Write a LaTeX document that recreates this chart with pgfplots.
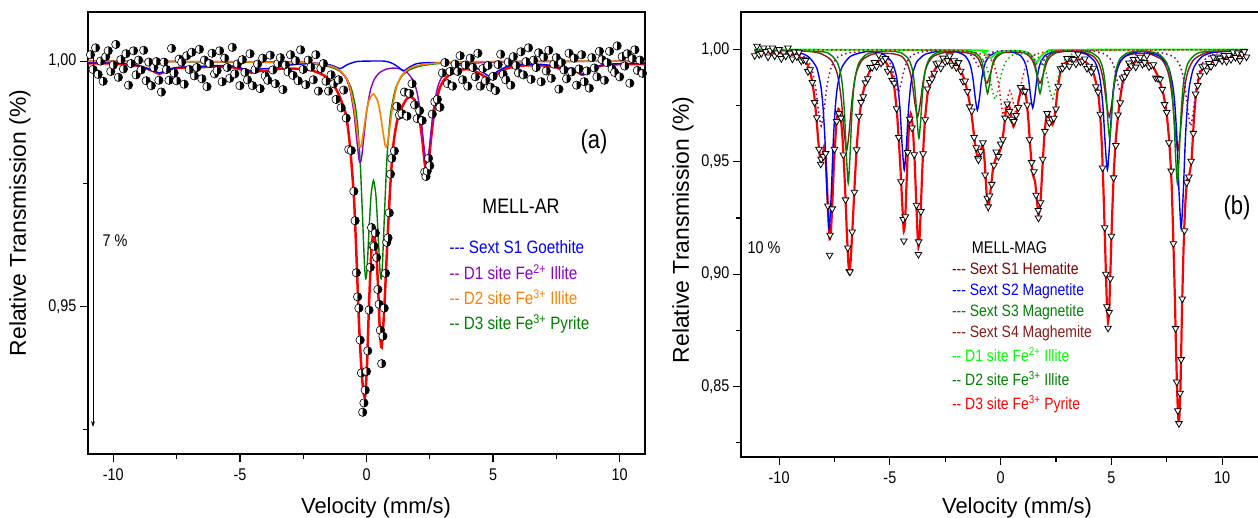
\documentclass[border=0pt]{standalone}
\usepackage{fontspec}
\setmainfont{Liberation Sans}
\newfontfamily\nf{Liberation Sans}[FakeStretch=0.85]
\usepackage{pgfplots}
\pgfplotsset{compat=1.18}
\usetikzlibrary{arrows.meta}
\definecolor{cblue}{RGB}{0,0,255}
\definecolor{cpurple}{RGB}{140,0,200}
\definecolor{corange}{RGB}{255,128,0}
\definecolor{cgreen}{RGB}{0,128,0}
\definecolor{cred}{RGB}{255,0,0}
\definecolor{cmaroon}{RGB}{128,0,0}
\definecolor{cbrown}{RGB}{139,26,26}
\definecolor{cbright}{RGB}{0,255,0}
\definecolor{cdgreen}{RGB}{0,170,0}
\definecolor{chem}{RGB}{128,0,128}
\pgfplotsset{
 mystyle/.style={
  scale only axis, anchor=south west,
  xtick={-10,-5,0,5,10}, xticklabels={-10,-5,0,5,10},
  minor xtick={-7.5,-2.5,2.5,7.5},
  xtick pos=left, ytick pos=left, tick align=outside,
  major tick length=8bp, minor tick length=5bp,
  tick style={black, line width=1.2bp},
  axis line style={line width=1.4bp},
  tick label style={font=\nf\fontsize{17}{17}\selectfont, text=black},
  xticklabel style={yshift=-3bp},
 }
}
\begin{document}
\begin{tikzpicture}
\useasboundingbox (0bp,0bp) rectangle (1258bp,518bp);
% ---------------- LEFT PANEL ----------------
\begin{axis}[mystyle,
 at={(88bp,64bp)}, width=557bp, height=442bp,
 xmin=-11, xmax=11, ymin=0.92, ymax=1.01,
 ytick={0.95,1.0}, yticklabels={{0,95},{1,00}},
 minor ytick={0.925,0.975},
]
% data
\addplot[only marks, mark=halfcircle*, mark size=4.2bp,
  mark options={draw=black, fill=white, mark color=black, rotate=90, line width=0.6bp}]
coordinates {
(-10.9,1.0013)(-10.8,0.9983)(-10.7,1.0027)(-10.6,0.9973)(-10.5,1.0000)(-10.4,0.9959)(-10.3,1.0009)(-10.2,1.0021)(-10.1,0.9979)(-10.0,0.9992)
(-9.9,1.0034)(-9.8,0.9967)(-9.7,1.0003)(-9.6,0.9984)(-9.5,1.0015)(-9.4,0.9951)(-9.3,0.9995)(-9.2,1.0021)(-9.1,0.9972)(-9.0,1.0002)
(-8.9,0.9982)(-8.8,1.0022)(-8.7,0.9960)(-8.6,0.9998)(-8.5,0.9950)(-8.4,0.9987)(-8.3,0.9999)(-8.2,0.9961)(-8.1,0.9937)(-8.0,0.9998)
(-7.9,0.9983)(-7.8,0.9961)(-7.7,1.0026)(-7.6,0.9976)(-7.5,0.9960)(-7.4,1.0004)(-7.3,0.9998)(-7.2,0.9953)(-7.1,1.0011)(-7.0,0.9983)
(-6.9,1.0018)(-6.8,0.9970)(-6.7,0.9987)(-6.6,1.0024)(-6.5,0.9964)(-6.4,1.0002)(-6.3,0.9948)(-6.2,0.9995)(-6.1,1.0016)(-6.0,0.9974)
(-5.9,0.9981)(-5.8,1.0021)(-5.7,0.9958)(-5.6,1.0006)(-5.5,0.9987)(-5.4,0.9965)(-5.3,1.0028)(-5.2,0.9974)(-5.1,0.9994)(-5.0,0.9950)
(-4.9,1.0003)(-4.8,0.9977)(-4.7,0.9962)(-4.6,1.0015)(-4.5,0.9950)(-4.4,0.9983)(-4.3,0.9994)(-4.2,0.9944)(-4.1,1.0006)(-4.0,0.9970)
(-3.9,0.9961)(-3.8,1.0012)(-3.7,0.9982)(-3.6,0.9954)(-3.5,0.9995)(-3.4,1.0007)(-3.3,0.9942)(-3.2,0.9992)(-3.1,0.9978)(-3.0,1.0013)
(-2.9,0.9971)(-2.8,1.0001)(-2.7,0.9960)(-2.6,1.0023)(-2.5,0.9983)(-2.4,0.9952)(-2.3,1.0002)(-2.2,0.9988)(-2.1,0.9962)(-2.0,1.0013)
(-1.9,0.9939)(-1.8,0.9985)(-1.7,0.9995)(-1.6,0.9959)(-1.5,0.9939)(-1.4,0.9972)(-1.3,0.9954)(-1.2,0.9922)(-1.1,0.9962)(-1.0,0.9905)
(-0.9,0.9941)(-0.8,0.9884)(-0.7,0.9820)(-0.6,0.9818)(-0.5,0.9735)(-0.45,0.9675)(-0.4,0.9569)(-0.35,0.9520)(-0.3,0.9497)(-0.25,0.9432)(-0.2,0.9365)(-0.15,0.9285)(-0.1,0.9304)(-0.05,0.9330)(0.0,0.9368)
(0.05,0.9410)(0.1,0.9493)(0.15,0.9580)(0.2,0.9661)(0.25,0.9625)(0.3,0.9623)(0.35,0.9650)(0.4,0.9600)(0.45,0.9535)(0.5,0.9505)(0.55,0.9452)(0.6,0.9384)(0.65,0.9440)(0.7,0.9497)(0.75,0.9568)(0.8,0.9631)(0.85,0.9640)(0.9,0.9691)(0.95,0.9770)(1.0,0.9802)
(1.1,0.9817)(1.2,0.9908)(1.3,0.9890)(1.4,0.9893)(1.5,0.9937)(1.6,0.9888)(1.7,0.9934)(1.8,0.9954)(1.9,0.9911)(2.0,0.9883)
(2.1,0.9899)(2.2,0.9879)(2.3,0.9774)(2.35,0.9765)(2.4,0.9776)(2.45,0.9802)(2.5,0.9787)(2.6,0.9892)(2.7,0.9917)(2.8,0.9922)(2.9,0.9906)(3.0,0.9976)
(3.1,0.9997)(3.2,0.9954)(3.3,0.9979)(3.4,0.9949)(3.5,0.9994)(3.6,0.9979)(3.7,1.0011)(3.8,0.9962)(3.9,0.9992)(4.0,0.9949)
(4.1,1.0006)(4.2,0.9987)(4.3,0.9968)(4.4,1.0016)(4.5,0.9949)(4.6,0.9985)(4.7,0.9960)(4.8,0.9991)(4.9,0.9947)(5.0,0.9969)
(5.1,0.9940)(5.2,0.9993)(5.3,1.0014)(5.4,0.9973)(5.5,0.9962)(5.6,0.9998)(5.7,0.9951)(5.8,1.0009)(5.9,0.9991)(6.0,0.9976)
(6.1,1.0019)(6.2,0.9972)(6.3,0.9999)(6.4,1.0027)(6.5,0.9963)(6.6,1.0002)(6.7,0.9987)(6.8,1.0017)(6.9,0.9958)(7.0,1.0008)
(7.1,0.9980)(7.2,1.0022)(7.3,0.9965)(7.4,0.9994)(7.5,1.0007)(7.6,0.9943)(7.7,0.9997)(7.8,0.9982)(7.9,0.9964)(8.0,1.0016)
(8.1,0.9978)(8.2,1.0006)(8.3,0.9951)(8.4,0.9984)(8.5,1.0013)(8.6,0.9958)(8.7,0.9980)(8.8,0.9945)(8.9,1.0007)(9.0,0.9986)
(9.1,0.9968)(9.2,1.0020)(9.3,1.0003)(9.4,0.9961)(9.5,0.9997)(9.6,1.0020)(9.7,0.9984)(9.8,0.9977)(9.9,1.0031)(10.0,0.9968)
(10.1,1.0009)(10.2,0.9990)(10.3,1.0015)(10.4,0.9955)(10.5,1.0005)(10.6,1.0023)(10.7,0.9981)(10.8,1.0002)(10.9,0.9975)
};
% total fit
\addplot[cred, line width=2.5bp, smooth, tension=0.4] coordinates {
(-11,0.99955)(-10,0.9995)(-9.2,0.9992)(-8.7,0.9985)(-8.4,0.9979)(-8.18,0.9974)(-7.95,0.9979)(-7.6,0.9985)(-7.2,0.99867)(-6.6,0.99873)(-6.0,0.9989)(-5.3,0.99875)(-4.9,0.9982)(-4.54,0.99767)(-4.2,0.998)(-3.82,0.99805)(-3.4,0.99845)(-2.8,0.99845)(-2.2,0.99815)(-1.8,0.9974)(-1.5,0.9964)(-1.2,0.9943)(-1.0,0.992)(-0.8,0.9888)(-0.65,0.9826)(-0.5,0.9726)(-0.4,0.9608)(-0.3,0.947)(-0.2,0.9372)(-0.12,0.9325)(-0.05,0.9318)(0.02,0.9381)(0.1,0.9505)(0.18,0.9602)(0.22,0.9631)(0.275,0.9649)(0.37,0.9625)(0.45,0.9548)(0.53,0.9449)(0.6,0.9417)(0.7,0.9495)(0.8,0.9605)(0.93,0.9738)(1.05,0.9825)(1.2,0.9876)(1.4,0.9906)(1.6,0.9924)(1.75,0.9927)(1.9,0.9921)(2.05,0.9897)(2.2,0.9841)(2.3,0.9792)(2.38,0.9774)(2.45,0.979)(2.55,0.9842)(2.7,0.9906)(2.9,0.9946)(3.1,0.9964)(3.4,0.9976)(3.8,0.9983)(4.1,0.9983)(4.5,0.9974)(4.87,0.9963)(5.2,0.9975)(5.6,0.9986)(6.2,0.9991)(7.0,0.9991)(7.5,0.9987)(7.8,0.9982)(8.15,0.9984)(8.53,0.9972)(8.9,0.9984)(9.4,0.9992)(10.2,0.9994)(11,0.9994)
};
% D3 green
\addplot[cgreen, line width=1.4bp, smooth, tension=0.4] coordinates {
(-11,1.0)(-3,0.99969)(-2,0.99935)(-1.5,0.9989)(-1.2,0.99835)(-1.0,0.99771)(-0.8,0.99662)(-0.6,0.99444)(-0.45,0.99106)(-0.35,0.98686)(-0.25,0.9795)(-0.15,0.96747)(-0.08,0.9586)(-0.03,0.95568)(0.02,0.95743)(0.1,0.96562)(0.18,0.9727)(0.275,0.9757)(0.37,0.9727)(0.45,0.96562)(0.53,0.95743)(0.58,0.95568)(0.63,0.9586)(0.71,0.96885)(0.81,0.98043)(0.95,0.98924)(1.15,0.99444)(1.4,0.99695)(1.7,0.99822)(2.1,0.99896)(2.6,0.99938)(3.2,0.99962)(4,0.99976)(6,0.9999)(11,1.0)
};
% D1 purple
\addplot[cpurple, line width=1.4bp, smooth, tension=0.4] coordinates {
(-11,1.0)(-3,0.99983)(-2,0.99959)(-1.5,0.99921)(-1.2,0.99867)(-1.0,0.99784)(-0.8,0.99638)(-0.65,0.99411)(-0.5,0.9896)(-0.4,0.98477)(-0.3,0.98011)(-0.25,0.97932)(-0.2,0.9801)(-0.1,0.98473)(0,0.98953)(0.15,0.99399)(0.3,0.9962)(0.5,0.99759)(0.8,0.9984)(1.065,0.99858)(1.3,0.99844)(1.6,0.99772)(1.85,0.99598)(2.0,0.99355)(2.13,0.98953)(2.25,0.98366)(2.33,0.9801)(2.38,0.97932)(2.43,0.9801)(2.5,0.98316)(2.63,0.9896)(2.8,0.99449)(3.0,0.99701)(3.3,0.99849)(3.8,0.9993)(4.5,0.99967)(6,0.9999)(11,1.0)
};
% Sextet blue
\addplot[cblue, line width=1.4bp, smooth, tension=0.4] coordinates {
(-11,0.9996)(-9.8,0.9996)(-9.2,0.9993)(-8.7,0.9986)(-8.4,0.998)(-8.18,0.9976)(-7.95,0.998)(-7.6,0.9986)(-7.2,0.9988)(-6.6,0.9989)(-6.0,0.9991)(-5.3,0.999)(-4.9,0.9985)(-4.54,0.998)(-4.2,0.9984)(-3.82,0.9985)(-3.4,0.999)(-2.8,0.9993)(-2.2,0.9995)(-1.6,0.9994)(-1.3,0.9990)(-1.03,0.9985)(-0.75,0.9993)(-0.4,0.9999)(0,1.0)(0.7,1.0)(1.0,0.9996)(1.25,0.9988)(1.46,0.998)(1.7,0.9988)(2.0,0.9995)(2.5,0.9997)(3.5,0.9997)(4.1,0.9992)(4.5,0.9981)(4.87,0.9969)(5.2,0.998)(5.6,0.999)(6.2,0.9994)(7.0,0.9993)(7.5,0.9989)(7.8,0.9984)(8.15,0.9986)(8.53,0.9973)(8.9,0.9985)(9.4,0.9993)(10.2,0.9995)(11,0.9995)
};
% D2 orange
\addplot[corange, line width=1.6bp, smooth, tension=0.4] coordinates {
(-11,1.0)(-3,0.99977)(-2,0.9995)(-1.5,0.9991)(-1.2,0.99857)(-1.0,0.99789)(-0.8,0.99655)(-0.65,0.99457)(-0.5,0.99078)(-0.4,0.98686)(-0.3,0.98318)(-0.25,0.98251)(-0.2,0.983)(-0.1,0.98629)(0,0.98978)(0.1,0.99203)(0.265,0.9933)(0.43,0.99203)(0.53,0.98978)(0.63,0.98629)(0.73,0.983)(0.78,0.98251)(0.83,0.98318)(0.93,0.98686)(1.03,0.99078)(1.18,0.99457)(1.33,0.99655)(1.55,0.99797)(1.8,0.99874)(2.1,0.99918)(2.5,0.99948)(3,0.99968)(4,0.99984)(6,0.99996)(11,1.0)
};
\draw[-{Stealth[length=6bp,width=4bp]}, line width=0.8bp] (axis cs:-10.8,1.0016) -- (axis cs:-10.8,0.9255);
\end{axis}
% ---------------- RIGHT PANEL ----------------
\begin{axis}[mystyle,
 at={(741bp,61bp)}, width=521bp, height=445bp,
 xmin=-11.72, xmax=11.8, ymin=0.8186, ymax=1.0167,
 ytick={0.85,0.9,0.95,1.0}, yticklabels={{0,85},{0,90},{0,95},{1,00}},
 minor ytick={0.825,0.875,0.925,0.975},
]
\addplot[only marks, mark=triangle*, mark size=3.8bp,
  mark options={draw=black, fill=white, rotate=180, line width=0.8bp}]
coordinates {
(-11.1,0.9973)(-11.0,1.0015)(-10.9,0.9978)(-10.8,0.9983)(-10.7,1.0007)(-10.6,0.9991)(-10.5,0.9967)(-10.4,0.9995)(-10.3,1.0007)(-10.2,0.9972)
(-10.1,0.9985)(-10.0,1.0000)(-9.9,0.9960)(-9.8,0.9985)(-9.7,0.9971)(-9.6,1.0007)(-9.5,0.9984)(-9.4,0.9958)(-9.3,0.9990)(-9.2,0.9968)
(-9.1,0.9988)(-9.0,0.9949)(-8.9,0.9955)(-8.8,0.9952)(-8.7,0.9902)(-8.6,0.9910)(-8.5,0.9854)(-8.4,0.9764)(-8.3,0.9697)(-8.2,0.9556)
(-8.12,0.9490)(-8.1,0.9512)(-8.0,0.9524)(-7.9,0.9537)(-7.8,0.9304)(-7.72,0.9085)(-7.7,0.9174)(-7.6,0.9291)(-7.5,0.9556)(-7.4,0.9680)(-7.3,0.9715)
(-7.2,0.9695)(-7.1,0.9531)(-7.0,0.9331)(-6.9,0.9117)(-6.83,0.9012)(-6.8,0.9010)(-6.7,0.9188)(-6.6,0.9365)(-6.5,0.9554)(-6.4,0.9703)(-6.3,0.9765)
(-6.2,0.9790)(-6.1,0.9852)(-6.0,0.9870)(-5.9,0.9921)(-5.8,0.9920)(-5.7,0.9943)(-5.6,0.9925)(-5.5,0.9976)(-5.4,0.9940)(-5.3,0.9950)
(-5.2,0.9960)(-5.1,0.9904)(-5.0,0.9915)(-4.9,0.9863)(-4.8,0.9850)(-4.7,0.9737)(-4.6,0.9609)(-4.5,0.9412)(-4.4,0.9244)(-4.37,0.9148)(-4.3,0.9256)
(-4.2,0.9542)(-4.1,0.9690)(-4.0,0.9651)(-3.9,0.9532)(-3.8,0.9307)(-3.71,0.9088)(-3.7,0.9144)(-3.6,0.9279)(-3.5,0.9536)(-3.4,0.9688)(-3.3,0.9825)
(-3.2,0.9854)(-3.1,0.9869)(-3.0,0.9895)(-2.9,0.9937)(-2.8,0.9940)(-2.7,0.9917)(-2.6,0.9962)(-2.5,0.9945)(-2.4,0.9951)(-2.3,0.9972)
(-2.2,0.9931)(-2.1,0.9950)(-2.0,0.9920)(-1.9,0.9942)(-1.8,0.9904)(-1.7,0.9859)(-1.6,0.9860)(-1.5,0.9813)(-1.4,0.9745)(-1.3,0.9727)
(-1.2,0.9609)(-1.1,0.9563)(-1.02,0.9515)(-1.0,0.9509)(-0.9,0.9545)(-0.8,0.9585)(-0.7,0.9442)(-0.6,0.9338)(-0.56,0.9300)(-0.5,0.9348)(-0.4,0.9400)(-0.3,0.9485)
(-0.2,0.9544)(-0.1,0.9524)(0.0,0.9580)(0.1,0.9599)(0.2,0.9695)(0.3,0.9758)(0.4,0.9725)(0.5,0.9690)(0.6,0.9680)(0.7,0.9707)
(0.8,0.9742)(0.9,0.9831)(1.0,0.9816)(1.1,0.9814)(1.2,0.9753)(1.3,0.9599)(1.4,0.9497)(1.5,0.9456)(1.6,0.9352)(1.7,0.9284)(1.71,0.9250)
(1.8,0.9318)(1.9,0.9512)(2.0,0.9636)(2.1,0.9715)(2.2,0.9674)(2.3,0.9690)(2.4,0.9694)(2.5,0.9736)(2.6,0.9837)(2.7,0.9915)
(2.8,0.9917)(2.9,0.9930)(3.0,0.9960)(3.1,0.9926)(3.2,0.9961)(3.3,0.9956)(3.4,0.9936)(3.5,0.9980)(3.6,0.9945)(3.7,0.9948)
(3.8,0.9958)(3.9,0.9916)(4.0,0.9926)(4.1,0.9900)(4.2,0.9917)(4.3,0.9835)(4.4,0.9810)(4.5,0.9712)(4.6,0.9473)(4.7,0.9207)(4.75,0.9000)
(4.8,0.8855)(4.85,0.8760)(4.9,0.8830)(4.95,0.8980)(5.0,0.9169)(5.1,0.9429)(5.2,0.9573)(5.3,0.9709)(5.4,0.9763)(5.5,0.9874)(5.6,0.9879)
(5.7,0.9898)(5.8,0.9940)(5.9,0.9927)(6.0,0.9956)(6.1,0.9922)(6.2,0.9957)(6.3,0.9966)(6.4,0.9934)(6.5,0.9942)(6.6,0.9973)
(6.7,0.9923)(6.8,0.9930)(6.9,0.9933)(7.0,0.9874)(7.1,0.9871)(7.2,0.9868)(7.3,0.9823)(7.4,0.9755)(7.5,0.9720)(7.6,0.9585)
(7.7,0.9459)(7.8,0.9136)(7.9,0.8758)(7.95,0.8520)(8.0,0.8392)(8.05,0.8335)(8.1,0.8470)(8.15,0.8620)(8.2,0.8890)(8.3,0.9194)(8.4,0.9407)
(8.5,0.9433)(8.6,0.9503)(8.7,0.9627)(8.8,0.9802)(8.9,0.9840)(9.0,0.9884)(9.1,0.9924)(9.2,0.9927)(9.3,0.9906)(9.4,0.9938)
(9.5,0.9925)(9.6,0.9966)(9.7,0.9942)(9.8,0.9967)(9.9,0.9962)(10.0,0.9950)(10.1,0.9974)(10.2,0.9947)(10.3,0.9974)(10.4,0.9956)
(10.5,0.9989)(10.6,0.9965)(10.7,0.9985)(10.8,0.9951)(10.9,0.9979)(11.0,0.9991)(11.1,0.9967)
};
% total fit
\addplot[cred, line width=2.2bp, smooth, tension=0.35] coordinates {
(-11.1,0.9990)(-10.5,0.9988)(-10.0,0.9985)(-9.6,0.9980)(-9.2,0.9972)(-8.9,0.9955)(-8.7,0.9930)(-8.55,0.9880)(-8.42,0.9800)(-8.32,0.9700)(-8.22,0.9580)(-8.12,0.9495)(-8.04,0.9520)(-7.97,0.9565)(-7.90,0.9520)(-7.84,0.9400)(-7.78,0.9260)(-7.72,0.9155)(-7.66,0.9190)(-7.60,0.9310)(-7.52,0.9500)(-7.42,0.9660)(-7.32,0.9735)(-7.22,0.9700)(-7.12,0.9580)(-7.02,0.9380)(-6.94,0.9180)(-6.87,0.9045)(-6.83,0.9020)(-6.78,0.9045)(-6.70,0.9180)(-6.60,0.9380)(-6.50,0.9560)(-6.40,0.9680)(-6.25,0.9790)(-6.05,0.9870)(-5.80,0.9925)(-5.50,0.9950)(-5.20,0.9945)(-4.95,0.9900)(-4.80,0.9830)(-4.68,0.9720)(-4.58,0.9570)(-4.50,0.9430)(-4.43,0.9290)(-4.37,0.9190)(-4.31,0.9240)(-4.24,0.9420)(-4.16,0.9620)(-4.06,0.9715)(-3.97,0.9660)(-3.88,0.9500)(-3.80,0.9300)(-3.75,0.9180)(-3.71,0.9120)(-3.66,0.9160)(-3.60,0.9300)(-3.52,0.9500)(-3.42,0.9680)(-3.30,0.9800)(-3.10,0.9885)(-2.80,0.9935)(-2.50,0.9954)(-2.20,0.9950)(-1.90,0.9925)(-1.65,0.9870)(-1.45,0.9790)(-1.30,0.9700)(-1.18,0.9600)(-1.08,0.9535)(-1.00,0.9520)(-0.90,0.9550)(-0.81,0.9575)(-0.72,0.9500)(-0.64,0.9370)(-0.56,0.9293)(-0.48,0.9350)(-0.40,0.9420)(-0.33,0.9478)(-0.20,0.9520)(-0.08,0.9537)(0.05,0.9575)(0.15,0.9650)(0.25,0.9735)(0.35,0.9763)(0.45,0.9720)(0.58,0.9657)(0.70,0.9700)(0.82,0.9780)(0.95,0.9825)(1.05,0.9830)(1.15,0.9790)(1.25,0.9690)(1.35,0.9550)(1.45,0.9445)(1.55,0.9415)(1.63,0.9340)(1.71,0.9263)(1.79,0.9310)(1.88,0.9460)(1.97,0.9610)(2.06,0.9700)(2.14,0.9720)(2.24,0.9690)(2.34,0.9665)(2.44,0.9700)(2.55,0.9800)(2.66,0.9880)(2.80,0.9930)(3.10,0.9950)(3.60,0.9956)(3.95,0.9935)(4.20,0.9890)(4.40,0.9810)(4.50,0.9700)(4.58,0.9550)(4.66,0.9320)(4.74,0.9050)(4.80,0.8860)(4.85,0.8786)(4.90,0.8840)(4.96,0.9020)(5.03,0.9250)(5.11,0.9450)(5.20,0.9600)(5.33,0.9730)(5.50,0.9850)(5.70,0.9910)(6.00,0.9940)(6.30,0.9955)(6.60,0.9945)(6.90,0.9920)(7.15,0.9870)(7.35,0.9800)(7.50,0.9710)(7.62,0.9580)(7.72,0.9400)(7.80,0.9140)(7.87,0.8880)(7.93,0.8620)(7.99,0.8420)(8.05,0.8330)(8.12,0.8500)(8.19,0.8850)(8.26,0.9120)(8.33,0.9300)(8.42,0.9420)(8.52,0.9445)(8.62,0.9510)(8.72,0.9680)(8.82,0.9800)(9.00,0.9895)(9.30,0.9930)(9.80,0.9955)(10.40,0.9968)(11.10,0.9975)
};
% S4 maghemite (maroon)
\addplot[cbrown, line width=1.4bp, smooth, tension=0.4] coordinates {
(-11.1,0.9997)(-8.87,0.9993)(-8.15,0.9983)(-7.67,0.9955)(-7.43,0.991)(-7.31,0.9862)(-7.19,0.9775)(-7.07,0.964)(-6.95,0.955)(-6.83,0.964)(-6.71,0.9775)(-6.59,0.9862)(-6.47,0.991)(-6.23,0.9955)(-5.75,0.998)(-4.95,0.9982)(-4.47,0.997)(-4.23,0.994)(-4.11,0.9908)(-3.99,0.985)(-3.87,0.976)(-3.75,0.970)(-3.63,0.976)(-3.51,0.985)(-3.39,0.9908)(-3.27,0.994)(-3.03,0.997)(-2.55,0.9986)(-1.82,0.9989)(-1.34,0.9982)(-1.1,0.997)(-0.98,0.9954)(-0.86,0.9925)(-0.74,0.988)(-0.62,0.985)(-0.5,0.988)(-0.38,0.9925)(-0.26,0.9954)(-0.14,0.997)(0.1,0.9985)(0.58,0.9988)(1.06,0.9985)(1.3,0.997)(1.42,0.9954)(1.54,0.9925)(1.66,0.988)(1.78,0.985)(1.9,0.988)(2.02,0.9925)(2.14,0.9954)(2.26,0.997)(2.5,0.9985)(2.98,0.9992)(3.7,0.9988)(4.18,0.997)(4.42,0.994)(4.54,0.9908)(4.66,0.985)(4.78,0.976)(4.9,0.970)(5.02,0.976)(5.14,0.985)(5.26,0.9908)(5.38,0.994)(5.62,0.997)(6.1,0.9982)(6.56,0.9982)(6.8,0.9978)(7.28,0.9955)(7.52,0.991)(7.64,0.9862)(7.76,0.9775)(7.88,0.964)(8.0,0.955)(8.12,0.964)(8.24,0.9775)(8.36,0.9862)(8.48,0.991)(8.72,0.9955)(9.2,0.9983)(9.92,0.9993)(11.1,0.9997)
};
% S2 magnetite (blue)
\addplot[cblue, line width=1.4bp, smooth, tension=0.4] coordinates {
(-11.1,0.9995)(-9.26,0.9988)(-8.69,0.9969)(-8.31,0.992)(-8.12,0.984)(-8.025,0.9754)(-7.93,0.96)(-7.835,0.936)(-7.74,0.92)(-7.645,0.936)(-7.55,0.96)(-7.455,0.9754)(-7.36,0.984)(-7.17,0.992)(-6.79,0.9969)(-6.22,0.9988)(-5.87,0.9992)(-5.3,0.9979)(-4.92,0.9946)(-4.73,0.9893)(-4.635,0.9835)(-4.54,0.9732)(-4.445,0.9571)(-4.35,0.9464)(-4.255,0.9571)(-4.16,0.9732)(-4.065,0.9835)(-3.97,0.9893)(-3.78,0.9946)(-3.4,0.9979)(-2.83,0.9992)(-2.57,0.9993)(-2.0,0.999)(-1.62,0.9973)(-1.43,0.9946)(-1.335,0.9917)(-1.24,0.9865)(-1.145,0.9784)(-1.05,0.973)(-0.955,0.9784)(-0.86,0.9865)(-0.765,0.9917)(-0.67,0.9946)(-0.48,0.9973)(-0.1,0.999)(0.2,0.9993)(0.5,0.999)(0.88,0.9974)(1.07,0.9948)(1.165,0.992)(1.26,0.987)(1.355,0.9792)(1.45,0.974)(1.545,0.9792)(1.64,0.987)(1.735,0.992)(1.83,0.9948)(2.02,0.9974)(2.4,0.999)(2.97,0.9993)(3.3,0.9992)(3.87,0.9979)(4.25,0.9946)(4.44,0.9893)(4.535,0.9835)(4.63,0.9732)(4.725,0.9571)(4.82,0.9464)(4.915,0.9571)(5.01,0.9732)(5.105,0.9835)(5.2,0.9893)(5.39,0.9946)(5.77,0.9979)(6.34,0.9992)(6.63,0.9988)(7.2,0.9969)(7.58,0.992)(7.77,0.9841)(7.865,0.9755)(7.96,0.9602)(8.055,0.9363)(8.15,0.9204)(8.245,0.9363)(8.34,0.9602)(8.435,0.9755)(8.53,0.9841)(8.72,0.992)(9.1,0.9969)(9.67,0.9988)(11.1,0.9995)
};
% S3 magnetite (green)
\addplot[cgreen, line width=1.4bp, smooth, tension=0.4] coordinates {
(-11.1,0.9997)(-8.16,0.9991)(-7.68,0.9977)(-7.36,0.994)(-7.2,0.9881)(-7.12,0.9817)(-7.04,0.9703)(-6.96,0.9524)(-6.88,0.9405)(-6.8,0.9524)(-6.72,0.9703)(-6.64,0.9817)(-6.56,0.9881)(-6.4,0.994)(-6.08,0.9977)(-5.6,0.9991)(-4.97,0.9993)(-4.49,0.9985)(-4.17,0.996)(-4.01,0.9921)(-3.93,0.9878)(-3.85,0.9803)(-3.77,0.9684)(-3.69,0.9605)(-3.61,0.9684)(-3.53,0.9803)(-3.45,0.9878)(-3.37,0.9921)(-3.21,0.996)(-2.89,0.9985)(-2.41,0.9994)(-1.87,0.9996)(-1.39,0.9992)(-1.07,0.998)(-0.91,0.9961)(-0.83,0.994)(-0.75,0.9902)(-0.67,0.9843)(-0.59,0.9804)(-0.51,0.9843)(-0.43,0.9902)(-0.35,0.994)(-0.27,0.9961)(-0.11,0.998)(0.21,0.9991)(0.6,0.9993)(0.98,0.9991)(1.3,0.998)(1.46,0.9961)(1.54,0.994)(1.62,0.9902)(1.7,0.9843)(1.78,0.9804)(1.86,0.9843)(1.94,0.9902)(2.02,0.994)(2.1,0.9961)(2.26,0.998)(2.58,0.9991)(3.06,0.9996)(3.64,0.9994)(4.12,0.9985)(4.44,0.996)(4.6,0.9921)(4.68,0.9878)(4.76,0.9803)(4.84,0.9684)(4.92,0.9605)(5.0,0.9684)(5.08,0.9803)(5.16,0.9878)(5.24,0.9921)(5.4,0.996)(5.72,0.9985)(6.2,0.9993)(6.7,0.9991)(7.18,0.9977)(7.5,0.994)(7.66,0.9881)(7.74,0.9817)(7.82,0.9703)(7.9,0.9524)(7.98,0.9405)(8.06,0.9524)(8.14,0.9703)(8.22,0.9817)(8.3,0.9881)(8.46,0.994)(8.78,0.9977)(9.26,0.9991)(11.1,0.9997)
};
% bright green
\addplot[cbright, line width=1.8bp, smooth, tension=0.4] coordinates {
(-11.1,1.0)(-1.2,0.9997)(-0.8,0.9988)(-0.6,0.9975)(-0.45,0.9962)(-0.3,0.9975)(-0.1,0.9988)(0.5,0.9996)(1.1,0.999)(1.3,0.9982)(1.45,0.9965)(1.62,0.9942)(1.78,0.9965)(1.95,0.9982)(2.2,0.9993)(2.8,0.9999)(11.1,1.0)
};
% S1 hematite dotted
\addplot[chem, line width=1.5bp, dash pattern=on 1.5bp off 3bp, smooth, tension=0.4] coordinates {
(-11.1,0.9996)(-10.1,0.9995)(-9.35,0.9987)(-8.85,0.9966)(-8.6,0.9932)(-8.475,0.9895)(-8.35,0.983)(-8.225,0.9728)(-8.1,0.966)(-7.975,0.9728)(-7.85,0.983)(-7.725,0.9895)(-7.6,0.9932)(-7.35,0.9966)(-6.85,0.9985)(-6.1,0.999)(-5.87,0.9991)(-5.37,0.9981)(-5.12,0.9962)(-4.995,0.9942)(-4.87,0.9905)(-4.745,0.9848)(-4.62,0.981)(-4.495,0.9848)(-4.37,0.9905)(-4.245,0.9942)(-4.12,0.9962)(-3.87,0.9981)(-3.37,0.9992)(-2.62,0.9995)(-2.2,0.9995)(-1.7,0.9992)(-1.45,0.9984)(-1.2,0.996)(-1.075,0.9936)(-0.95,0.992)(-0.825,0.9936)(-0.7,0.996)(-0.45,0.9984)(-0.2,0.9992)(0.4,0.9994)(1.0,0.9992)(1.25,0.9984)(1.5,0.996)(1.625,0.9936)(1.75,0.992)(1.875,0.9936)(2.0,0.996)(2.25,0.9984)(2.5,0.9992)(3.0,0.9996)(3.42,0.9996)(4.17,0.9993)(4.67,0.9981)(4.92,0.9962)(5.045,0.9942)(5.17,0.9905)(5.295,0.9848)(5.42,0.981)(5.545,0.9848)(5.67,0.9905)(5.795,0.9942)(5.92,0.9962)(6.17,0.9981)(6.67,0.9987)(7.33,0.9984)(7.83,0.9966)(8.08,0.9932)(8.205,0.9895)(8.33,0.983)(8.455,0.9728)(8.58,0.966)(8.705,0.9728)(8.83,0.983)(8.955,0.9895)(9.08,0.9932)(9.33,0.9966)(9.83,0.9987)(10.58,0.9995)(11.1,0.9996)
};
% D1 dotted green
\addplot[cdgreen, line width=1.5bp, dash pattern=on 1.5bp off 3bp, smooth, tension=0.4] coordinates {
(-11.1,0.9999)(-3,0.9998)(-1.65,0.9992)(-1.09,0.9978)(-0.81,0.9956)(-0.67,0.9932)(-0.53,0.989)(-0.39,0.9824)(-0.25,0.978)(-0.11,0.9824)(0.03,0.989)(0.17,0.9932)(0.31,0.9956)(0.59,0.9978)(1.05,0.998)(1.51,0.9978)(1.79,0.9956)(1.93,0.9932)(2.07,0.989)(2.21,0.9824)(2.35,0.978)(2.49,0.9824)(2.63,0.989)(2.77,0.9932)(2.91,0.9956)(3.19,0.9978)(3.75,0.9992)(5,0.9998)(11.1,0.9999)
};
% D3 dotted red
\addplot[cred, line width=1.5bp, dash pattern=on 1.5bp off 3bp, smooth, tension=0.4] coordinates {
(-11.1,0.9999)(-3,0.9997)(-1.5,0.9992)(-0.9,0.998)(-0.54,0.9966)(-0.32,0.9937)(-0.1,0.9853)(0.01,0.9769)(0.12,0.9709)(0.23,0.9748)(0.42,0.9818)(0.61,0.9748)(0.72,0.9709)(0.83,0.9769)(0.94,0.9853)(1.16,0.9937)(1.38,0.9966)(1.8,0.9985)(2.5,0.9994)(5,0.9997)(11.1,0.9999)
};
\end{axis}
% ---------------- TEXT ----------------
\node[rotate=90, font=\fontsize{23}{23}\selectfont] at (20bp,295bp) {Relative Transmission (\%)};
\node[rotate=90, font=\fontsize{23}{23}\selectfont] at (683bp,288bp) {Relative Transmission (\%)};
\node[anchor=base, font=\fontsize{22}{22}\selectfont] at (376bp,5bp) {Velocity (mm/s)};
\node[anchor=base, font=\fontsize{22}{22}\selectfont] at (1017bp,5bp) {Velocity (mm/s)};
% left annotations
\node[font=\nf\fontsize{26}{26}\selectfont] at (594bp,376bp) {(a)};
\node[font=\nf\fontsize{17}{17}\selectfont] at (115bp,277bp) {7 \%};
\node[anchor=base, font=\nf\fontsize{21}{21}\selectfont] at (521bp,304.5bp) {MELL-AR};
\begin{scope}[every node/.style={anchor=base west, font=\nf\fontsize{18}{18}\selectfont}]
\node[text=cblue] at (446bp,264.5bp) {-{}-{}- Sext S1 Goethite};
\node[text=cpurple] at (446bp,238.5bp) {-{}- D1 site Fe\textsuperscript{2+} Illite};
\node[text=corange] at (446bp,213.5bp) {-{}- D2 site Fe\textsuperscript{3+} Illite};
\node[text=cgreen] at (446bp,188.5bp) {-{}- D3 site Fe\textsuperscript{3+} Pyrite};
\end{scope}
% right annotations
\node[font=\nf\fontsize{26}{26}\selectfont] at (1237bp,310bp) {(b)};
\node[font=\nf\fontsize{17}{17}\selectfont] at (764bp,270bp) {10 \%};
\node[anchor=base, font=\nf\fontsize{17}{17}\selectfont] at (1009.5bp,264bp) {MELL-MAG};
\begin{scope}[every node/.style={anchor=base west, font=\nf\fontsize{16.5}{16.5}\selectfont}]
\node[text=cmaroon] at (948.5bp,243bp) {-{}-{}- Sext S1 Hematite};
\node[text=cblue] at (948.5bp,222bp) {-{}-{}- Sext S2 Magnetite};
\node[text=cgreen] at (948.5bp,201bp) {-{}-{}- Sext S3 Magnetite};
\node[text=cbrown] at (948.5bp,180bp) {-{}-{}- Sext S4 Maghemite};
\node[text=cbright] at (948.5bp,156bp) {-{}- D1 site Fe\textsuperscript{2+} Illite};
\node[text=cgreen] at (948.5bp,132bp) {-{}- D2 site Fe\textsuperscript{3+} Illite};
\node[text=cred] at (948.5bp,108bp) {-{}- D3 site Fe\textsuperscript{3+} Pyrite};
\end{scope}
\end{tikzpicture}
\end{document}
